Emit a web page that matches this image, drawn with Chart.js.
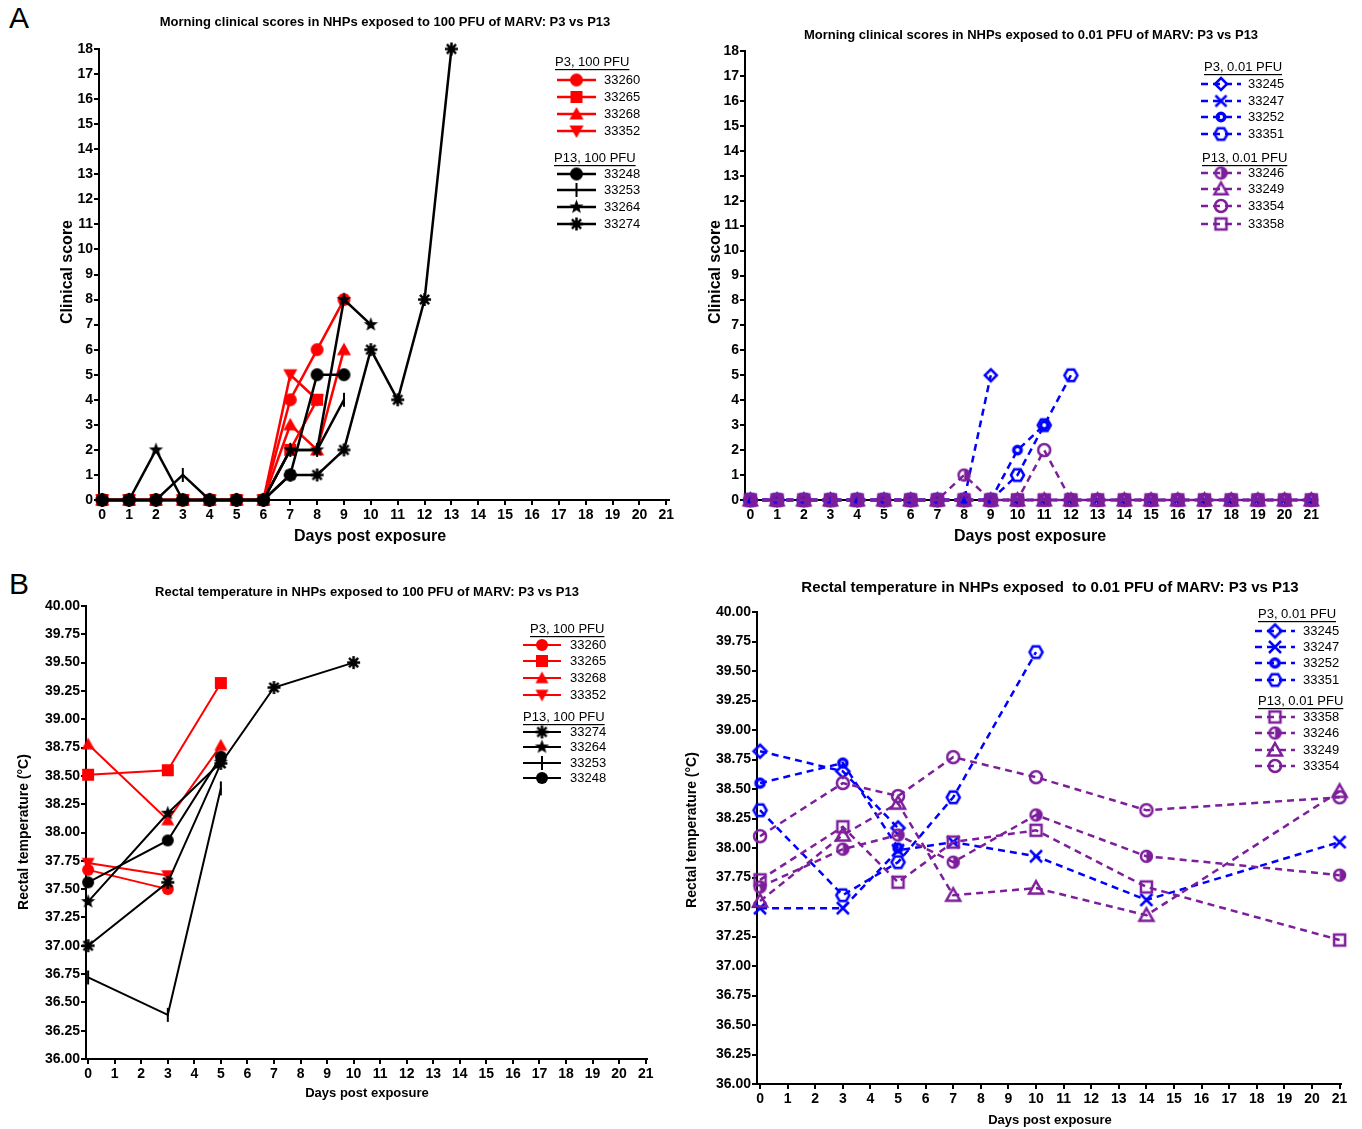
<!DOCTYPE html>
<html>
<head>
<meta charset="utf-8">
<script src="https://cdn.jsdelivr.net/npm/chart.js@4.4.0/dist/chart.umd.min.js"></script>
<style>
body { margin: 0; background: #fff; width: 1362px; height: 1129px; position: relative; overflow: hidden; font-family: "Liberation Sans", Arial, sans-serif; }
canvas { position: absolute; }
.letter { position: absolute; font-size: 30px; color: #000; }
</style>
</head>
<body>
<div class="letter" style="left:9px;top:1px">A</div>
<div class="letter" style="left:9px;top:567px">B</div>
<canvas id="c1" width="681" height="560" style="left:0;top:0"></canvas>
<canvas id="c2" width="681" height="560" style="left:681px;top:0"></canvas>
<canvas id="c3" width="681" height="569" style="left:0;top:560px"></canvas>
<canvas id="c4" width="681" height="569" style="left:681px;top:560px"></canvas>
<script>
// ---- data ----
const xTicks = [0,1,2,3,4,5,6,7,8,9,10,11,12,13,14,15,16,17,18,19,20,21];

// A: clinical scores, 100 PFU
const daysA100 = [0,1,2,3,4,5,6,7,8,9,10,11,12,13];
const a33260 = [0,0,0,0,0,0,0,4,6,8];
const a33265 = [0,0,0,0,0,0,0,2,4];
const a33268 = [0,0,0,0,0,0,0,3,2,6];
const a33352 = [0,0,0,0,0,0,0,5,4];
const a33248 = [0,0,0,0,0,0,0,1,5,5];
const a33253 = [0,0,0,1,0,0,0,2,2,4];
const a33264 = [0,0,2,0,0,0,0,2,2,8,7];
const a33274 = [0,0,0,0,0,0,0,1,1,2,6,4,8,18];

// A: clinical scores, 0.01 PFU
const daysA001 = [0,1,2,3,4,5,6,7,8,9,10,11,12,13,14,15,16,17,18,19,20,21];
const b33245 = [0,0,0,0,0,0,0,0,0,5];
const b33247 = [0,0,0,0,0,0,0,0,0,0,0,0,0,0,0,0,0,0,0,0,0,0];
const b33252 = [0,0,0,0,0,0,0,0,0,0,2,3];
const b33351 = [0,0,0,0,0,0,0,0,0,0,1,3,5];
const b33246 = [0,0,0,0,0,0,0,0,1,0,0,0,0,0,0,0,0,0,0,0,0,0];
const b33249 = [0,0,0,0,0,0,0,0,0,0,0,0,0,0,0,0,0,0,0,0,0,0];
const b33354 = [0,0,0,0,0,0,0,0,0,0,0,2,0,0,0,0,0,0,0,0,0,0];
const b33358 = [0,0,0,0,0,0,0,0,0,0,0,0,0,0,0,0,0,0,0,0,0,0];

// B: rectal temperature, 100 PFU
const daysB100 = [0,3,5,7,10];
const t33260 = [37.67,37.50];
const t33265 = [38.51,38.55,39.32];
const t33268 = [38.78,38.11,38.77];
const t33352 = [37.73,37.62];
const t33274 = [37.00,37.56,38.61,39.28,39.50];
const t33264 = [37.39,38.17,38.62];
const t33253 = [36.72,36.39,38.39];
const t33248 = [37.56,37.93,38.67];

// B: rectal temperature, 0.01 PFU
const daysB001 = [0,3,5,7,10,14,21];
const u33245 = [38.82,38.65,38.17];
const u33247 = [37.49,37.49,37.98,38.05,37.93,37.56,38.05];
const u33252 = [38.55,38.72,38.00];
const u33351 = [38.32,37.60,37.88,38.43,39.66];
const u33358 = [37.73,38.18,37.71,38.05,38.15,37.67,37.22];
const u33246 = [37.67,37.99,38.11,37.88,38.28,37.93,37.77];
const u33249 = [37.55,38.11,38.38,37.60,37.66,37.43,38.48];
const u33354 = [38.10,38.55,38.44,38.77,38.60,38.32,38.43];

const RED = '#ff0000', BLACK = '#000000', BLUE = '#0000ff', PURPLE = '#7d1e9b';
const FONT = '"Liberation Sans", Arial, sans-serif';

// ---- marker images ----
function marker(kind, color, size) {
  const s = Math.ceil(size + 6);
  const c = document.createElement('canvas');
  c.width = s; c.height = s;
  const g = c.getContext('2d');
  const m = s / 2, r = size / 2;
  g.fillStyle = color; g.strokeStyle = color; g.lineWidth = 2.5;
  g.beginPath();
  if (kind === 'circle') { g.arc(m, m, r, 0, Math.PI * 2); g.fill(); }
  else if (kind === 'square') { g.fillRect(m - r, m - r, 2 * r, 2 * r); }
  else if (kind === 'tri') { g.moveTo(m, m - r); g.lineTo(m + r, m + r * 0.8); g.lineTo(m - r, m + r * 0.8); g.closePath(); g.fill(); }
  else if (kind === 'tridown') { g.moveTo(m, m + r); g.lineTo(m + r, m - r * 0.8); g.lineTo(m - r, m - r * 0.8); g.closePath(); g.fill(); }
  else if (kind === 'bar') { g.lineWidth = 2; g.moveTo(m, m - r); g.lineTo(m, m + r); g.stroke(); }
  else if (kind === 'star') {
    for (let i = 0; i < 10; i++) {
      const a = -Math.PI / 2 + i * Math.PI / 5, rr = i % 2 ? r * 0.42 : r;
      g.lineTo(m + rr * Math.cos(a), m + rr * Math.sin(a));
    }
    g.closePath(); g.fill();
  }
  else if (kind === 'asterisk') {
    g.lineWidth = 2.5;
    for (let i = 0; i < 4; i++) {
      const a = i * Math.PI / 4;
      g.moveTo(m - r * Math.cos(a), m - r * Math.sin(a)); g.lineTo(m + r * Math.cos(a), m + r * Math.sin(a));
    }
    g.stroke();
    g.beginPath(); g.arc(m, m, r * 0.45, 0, Math.PI * 2); g.fill();
  }
  else if (kind === 'diamond') { g.moveTo(m, m - r); g.lineTo(m + r, m); g.lineTo(m, m + r); g.lineTo(m - r, m); g.closePath(); g.stroke(); }
  else if (kind === 'x') { g.lineWidth = 2.5; g.moveTo(m - r, m - r); g.lineTo(m + r, m + r); g.moveTo(m + r, m - r); g.lineTo(m - r, m + r); g.stroke(); }
  else if (kind === 'ring') { g.lineWidth = 3.5; g.arc(m, m, r * 0.62, 0, Math.PI * 2); g.stroke(); }
  else if (kind === 'hex') {
    for (let i = 0; i < 6; i++) { const a = i * Math.PI / 3; g.lineTo(m + r * Math.cos(a), m + r * Math.sin(a)); }
    g.closePath(); g.stroke();
  }
  else if (kind === 'half') {
    g.arc(m, m, r - 1, 0, Math.PI * 2); g.stroke();
    g.beginPath(); g.arc(m, m, r - 1, -Math.PI / 2, Math.PI / 2); g.closePath(); g.fill();
  }
  else if (kind === 'otri') { g.moveTo(m, m - r); g.lineTo(m + r, m + r * 0.8); g.lineTo(m - r, m + r * 0.8); g.closePath(); g.stroke(); }
  else if (kind === 'ocircle') { g.arc(m, m, r - 1, 0, Math.PI * 2); g.stroke(); }
  else if (kind === 'osquare') { g.strokeRect(m - r + 1, m - r + 1, 2 * r - 2, 2 * r - 2); }
  return c;
}

function series(label, days, vals, color, kind, size, dashed, width) {
  const pts = [];
  vals.forEach((v, i) => { if (v !== null && v !== undefined) pts.push({ x: days[i], y: v }); });
  return {
    label, data: pts, borderColor: color, backgroundColor: color,
    borderWidth: width || 2.5, borderDash: dashed ? [7, 5] : [],
    pointStyle: marker(kind, color, size), pointRadius: size / 2,
    tension: 0, clip: false, fill: false
  };
}

// ---- titles, axis titles and grouped legend ----
const deco = {
  id: 'deco',
  afterDraw(chart, args, o) {
    const g = chart.ctx;
    g.save();
    g.fillStyle = '#000';
    g.textAlign = 'center'; g.textBaseline = 'middle';
    g.font = o.title.font; g.fillText(o.title.text, o.title.x, o.title.y);
    g.font = o.xTitle.font; g.fillText(o.xTitle.text, o.xTitle.x, o.xTitle.y);
    g.save();
    g.translate(o.yTitle.x, o.yTitle.y); g.rotate(-Math.PI / 2);
    g.font = o.yTitle.font; g.fillText(o.yTitle.text, 0, 0);
    g.restore();
    const L = o.legend;
    g.textAlign = 'left';
    g.font = '13px ' + FONT;
    L.rows.forEach(row => {
      if (row.header) {
        g.fillStyle = '#000';
        g.fillText(row.header, row.x, row.y);
        const w = g.measureText(row.header).width;
        g.fillRect(row.x, row.y + 7, w, 1.2);
        return;
      }
      const ds = chart.data.datasets.find(d => d.label === row.label);
      g.strokeStyle = ds.borderColor; g.lineWidth = ds.borderWidth;
      g.setLineDash(ds.borderDash);
      g.beginPath(); g.moveTo(L.x0, row.y); g.lineTo(L.x1, row.y); g.stroke();
      g.setLineDash([]);
      const img = ds.pointStyle;
      g.drawImage(img, (L.x0 + L.x1) / 2 - img.width / 2, row.y - img.height / 2);
      g.fillStyle = '#000';
      g.fillText(row.label, L.tx, row.y);
    });
    g.restore();
  }
};

function makeChart(id, datasets, c) {
  const tickFont = { family: FONT, size: c.tickSize || 14, weight: 'bold' };
  return new Chart(document.getElementById(id), {
    type: 'line',
    data: { datasets },
    options: {
      responsive: false, animation: false,
      layout: { padding: c.pad },
      plugins: { legend: { display: false }, tooltip: { enabled: false }, deco: c.deco },
      scales: {
        x: {
          type: 'linear', min: c.xmin, max: c.xmax,
          afterBuildTicks: s => { s.ticks = xTicks.map(v => ({ value: v })); },
          afterFit: s => { s.height = 30; },
          ticks: { autoSkip: false, maxRotation: 0, font: tickFont, color: '#000', padding: 2 },
          grid: { drawOnChartArea: false, color: '#000', lineWidth: 2, tickLength: 5 },
          border: { color: '#000', width: 2 }
        },
        y: {
          min: c.ymin, max: c.ymax,
          afterBuildTicks: s => { s.ticks = c.yTicks.map(v => ({ value: v })); },
          afterFit: s => { s.width = 50; },
          ticks: { autoSkip: false, font: tickFont, color: '#000', padding: 1, callback: c.yFmt },
          grid: { drawOnChartArea: false, color: '#000', lineWidth: 2, tickLength: 5 },
          border: { color: '#000', width: 2 }
        }
      }
    },
    plugins: [deco]
  });
}

const scoreTicks = [0,1,2,3,4,5,6,7,8,9,10,11,12,13,14,15,16,17,18];
const tempTicks = [36,36.25,36.5,36.75,37,37.25,37.5,37.75,38,38.25,38.5,38.75,39,39.25,39.5,39.75,40];
const tempFmt = v => Number(v).toFixed(2);

// Panel A left
makeChart('c1', [
  series('33248', daysA100, a33248, BLACK, 'circle', 13),
  series('33253', daysA100, a33253, BLACK, 'bar', 14),
  series('33264', daysA100, a33264, BLACK, 'star', 15),
  series('33274', daysA100, a33274, BLACK, 'asterisk', 13),
  series('33260', daysA100, a33260, RED, 'circle', 13),
  series('33265', daysA100, a33265, RED, 'square', 12),
  series('33268', daysA100, a33268, RED, 'tri', 14),
  series('33352', daysA100, a33352, RED, 'tridown', 14)
], {
  pad: { left: 49, top: 49, right: 12, bottom: 30 },
  xmin: -0.12, xmax: 21.1, ymin: 0, ymax: 18, yTicks: scoreTicks,
  deco: {
    title: { text: 'Morning clinical scores in NHPs exposed to 100 PFU of MARV: P3 vs P13', x: 385, y: 22, font: 'bold 13px ' + FONT },
    xTitle: { text: 'Days post exposure', x: 370, y: 537, font: 'bold 16px ' + FONT },
    yTitle: { text: 'Clinical score', x: 68, y: 272, font: 'bold 16px ' + FONT },
    legend: { x0: 557, x1: 596, tx: 604, rows: [
      { header: 'P3, 100 PFU', x: 555, y: 62 },
      { label: '33260', y: 80 }, { label: '33265', y: 97 }, { label: '33268', y: 114 }, { label: '33352', y: 131 },
      { header: 'P13, 100 PFU', x: 554, y: 158 },
      { label: '33248', y: 174 }, { label: '33253', y: 190 }, { label: '33264', y: 207 }, { label: '33274', y: 224 }
    ] }
  }
});

// Panel A right
makeChart('c2', [
  series('33358', daysA001, b33358, PURPLE, 'osquare', 13, true),
  series('33249', daysA001, b33249, PURPLE, 'otri', 13, true),
  series('33246', daysA001, b33246, PURPLE, 'half', 13, true),
  series('33354', daysA001, b33354, PURPLE, 'ocircle', 14, true),
  series('33245', daysA001, b33245, BLUE, 'diamond', 12, true),
  series('33247', daysA001, b33247, BLUE, 'x', 11, true),
  series('33252', daysA001, b33252, BLUE, 'ring', 12, true),
  series('33351', daysA001, b33351, BLUE, 'hex', 13, true)
], {
  pad: { left: 14, top: 51, right: 48, bottom: 30 },
  xmin: -0.2, xmax: 21.1, ymin: 0, ymax: 18, yTicks: scoreTicks,
  deco: {
    title: { text: 'Morning clinical scores in NHPs exposed to 0.01 PFU of MARV: P3 vs P13', x: 350, y: 35, font: 'bold 13px ' + FONT },
    xTitle: { text: 'Days post exposure', x: 349, y: 537, font: 'bold 16px ' + FONT },
    yTitle: { text: 'Clinical score', x: 35, y: 272, font: 'bold 16px ' + FONT },
    legend: { x0: 520, x1: 560, tx: 567, rows: [
      { header: 'P3, 0.01 PFU', x: 523, y: 67 },
      { label: '33245', y: 84 }, { label: '33247', y: 101 }, { label: '33252', y: 117 }, { label: '33351', y: 134 },
      { header: 'P13, 0.01 PFU', x: 521, y: 158 },
      { label: '33246', y: 173 }, { label: '33249', y: 189 }, { label: '33354', y: 206 }, { label: '33358', y: 224 }
    ] }
  }
});

// Panel B left
makeChart('c3', [
  series('33274', daysB100, t33274, BLACK, 'asterisk', 13, false, 2),
  series('33264', daysB100, t33264, BLACK, 'star', 15, false, 2),
  series('33253', daysB100, t33253, BLACK, 'bar', 14, false, 2),
  series('33248', daysB100, t33248, BLACK, 'circle', 12, false, 2),
  series('33260', daysB100, t33260, RED, 'circle', 12, false, 2),
  series('33265', daysB100, t33265, RED, 'square', 12, false, 2),
  series('33268', daysB100, t33268, RED, 'tri', 13, false, 2),
  series('33352', daysB100, t33352, RED, 'tridown', 13, false, 2)
], {
  pad: { left: 36, top: 46, right: 34, bottom: 40 },
  xmin: -0.08, xmax: 21.05, ymin: 36, ymax: 40, yTicks: tempTicks, yFmt: tempFmt,
  deco: {
    title: { text: 'Rectal temperature in NHPs exposed to 100 PFU of MARV: P3 vs P13', x: 367, y: 32, font: 'bold 13px ' + FONT },
    xTitle: { text: 'Days post exposure', x: 367, y: 533, font: 'bold 13px ' + FONT },
    yTitle: { text: 'Rectal temperature (°C)', x: 24, y: 272, font: 'bold 14px ' + FONT },
    legend: { x0: 523, x1: 561, tx: 570, rows: [
      { header: 'P3, 100 PFU', x: 530, y: 69 },
      { label: '33260', y: 85 }, { label: '33265', y: 101 }, { label: '33268', y: 118 }, { label: '33352', y: 135 },
      { header: 'P13, 100 PFU', x: 523, y: 157 },
      { label: '33274', y: 172 }, { label: '33264', y: 187 }, { label: '33253', y: 203 }, { label: '33248', y: 218 }
    ] }
  }
});

// Panel B right
makeChart('c4', [
  series('33358', daysB001, u33358, PURPLE, 'osquare', 13, true),
  series('33246', daysB001, u33246, PURPLE, 'half', 13, true),
  series('33249', daysB001, u33249, PURPLE, 'otri', 14, true),
  series('33354', daysB001, u33354, PURPLE, 'ocircle', 14, true),
  series('33245', daysB001, u33245, BLUE, 'diamond', 13, true),
  series('33247', daysB001, u33247, BLUE, 'x', 12, true),
  series('33252', daysB001, u33252, BLUE, 'ring', 13, true),
  series('33351', daysB001, u33351, BLUE, 'hex', 13, true)
], {
  pad: { left: 26, top: 52, right: 21, bottom: 15 },
  xmin: -0.11, xmax: 21.05, ymin: 36, ymax: 40, yTicks: tempTicks, yFmt: tempFmt,
  deco: {
    title: { text: 'Rectal temperature in NHPs exposed  to 0.01 PFU of MARV: P3 vs P13', x: 369, y: 28, font: 'bold 15px ' + FONT },
    xTitle: { text: 'Days post exposure', x: 369, y: 560, font: 'bold 13px ' + FONT },
    yTitle: { text: 'Rectal temperature (°C)', x: 11, y: 270, font: 'bold 14px ' + FONT },
    legend: { x0: 574, x1: 614, tx: 622, rows: [
      { header: 'P3, 0.01 PFU', x: 577, y: 54 },
      { label: '33245', y: 71 }, { label: '33247', y: 87 }, { label: '33252', y: 103 }, { label: '33351', y: 120 },
      { header: 'P13, 0.01 PFU', x: 577, y: 141 },
      { label: '33358', y: 157 }, { label: '33246', y: 173 }, { label: '33249', y: 190 }, { label: '33354', y: 206 }
    ] }
  }
});
</script>
</body>
</html>
